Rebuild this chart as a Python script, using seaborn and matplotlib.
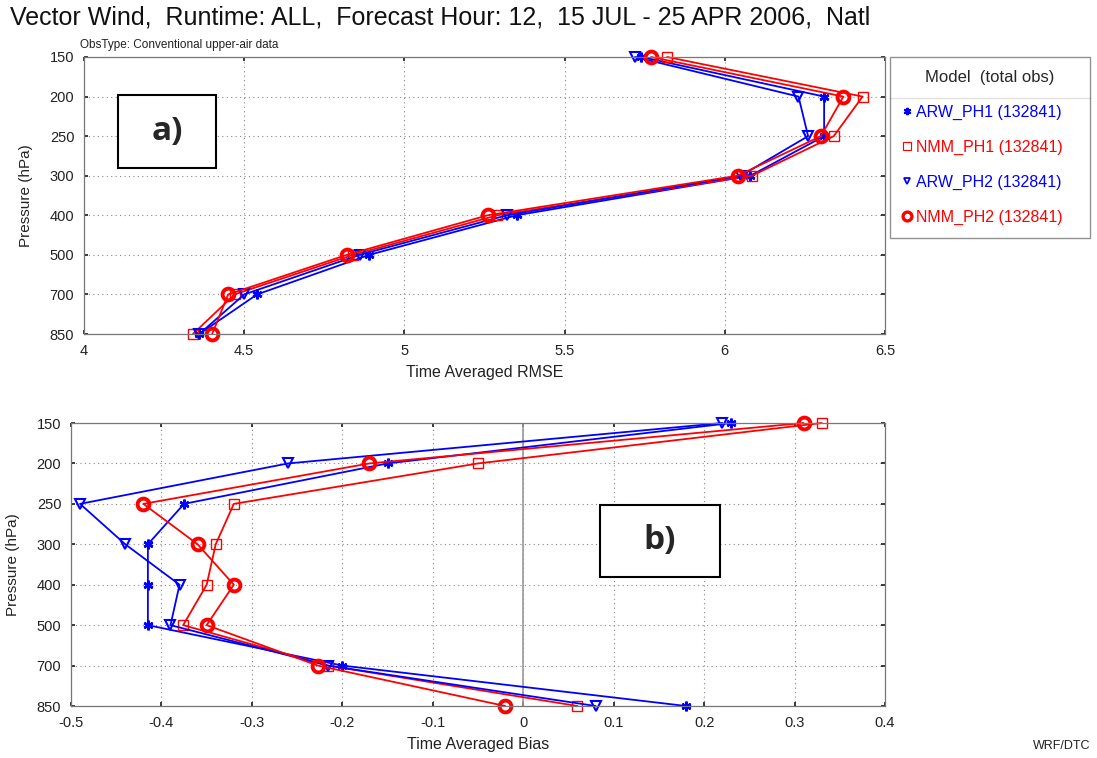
import matplotlib
matplotlib.use("Agg")
import matplotlib.pyplot as plt
from matplotlib.patches import Rectangle
from matplotlib.lines import Line2D
import numpy as np
import pandas as pd
import seaborn as sns

levels = [150, 200, 250, 300, 400, 500, 700, 850]
models = ["ARW_PH1 (132841)", "NMM_PH1 (132841)", "ARW_PH2 (132841)", "NMM_PH2 (132841)"]

rmse_arw_ph1 = [5.74, 6.31, 6.31, 6.08, 5.35, 4.89, 4.54, 4.36]
rmse_nmm_ph1 = [5.82, 6.43, 6.34, 6.085, 5.29, 4.84, 4.47, 4.34]
rmse_arw_ph2 = [5.72, 6.23, 6.26, 6.05, 5.32, 4.86, 4.50, 4.36]
rmse_nmm_ph2 = [5.77, 6.37, 6.30, 6.04, 5.26, 4.82, 4.45, 4.40]

bias_arw_ph1 = [0.23, -0.15, -0.375, -0.415, -0.415, -0.415, -0.20, 0.18]
bias_nmm_ph1 = [0.33, -0.05, -0.32, -0.34, -0.35, -0.376, -0.216, 0.06]
bias_arw_ph2 = [0.22, -0.26, -0.49, -0.44, -0.38, -0.39, -0.216, 0.08]
bias_nmm_ph2 = [0.31, -0.17, -0.42, -0.36, -0.32, -0.35, -0.227, -0.02]

colors = {models[0]: "#0000ff", models[1]: "#ff0000", models[2]: "#0000ff", models[3]: "#ff0000"}
sns_markers = {models[0]: "X", models[1]: "s", models[2]: "v", models[3]: "o"}
markers = {models[0]: (6, 2, 0), models[1]: "s", models[2]: "v", models[3]: "o"}
msizes = {models[0]: 7, models[1]: 7, models[2]: 6.5, models[3]: 8.5}
mews = {models[0]: 1.8, models[1]: 1.0, models[2]: 1.5, models[3]: 2.8}


def long_df(series):
    rows = []
    for m, vals in zip(models, series):
        for i, (lv, v) in enumerate(zip(levels, vals)):
            rows.append({"model": m, "idx": i, "level": lv, "value": v})
    return pd.DataFrame(rows)


df_rmse = long_df([rmse_arw_ph1, rmse_nmm_ph1, rmse_arw_ph2, rmse_nmm_ph2])
df_bias = long_df([bias_arw_ph1, bias_nmm_ph1, bias_arw_ph2, bias_nmm_ph2])

sns.set_theme(style="white")
plt.rcParams["font.family"] = ["Liberation Sans", "DejaVu Sans"]

fig = plt.figure(figsize=(10.97, 7.58), dpi=100)
W, H = 1097, 758


def ax_rect(l, t, r, b):
    return [l / W, 1 - b / H, (r - l) / W, (b - t) / H]


ax1 = fig.add_axes(ax_rect(84, 57, 885, 334))
ax2 = fig.add_axes(ax_rect(71, 423, 885, 706))


def draw(ax, df, xlim, xticks, xlabel):
    sns.lineplot(data=df, x="value", y="idx", hue="model", style="model",
                 palette=colors, markers=sns_markers, dashes=False, sort=False,
                 estimator=None, ax=ax, legend=False, linewidth=1.3)
    for line, m in zip(ax.lines, models):
        line.set_clip_on(False)
        line.set_marker(markers[m])
        line.set_markeredgecolor(colors[m])
        line.set_markerfacecolor("none")
        line.set_markersize(msizes[m])
        line.set_markeredgewidth(mews[m])
    ax.set_xlim(*xlim)
    ax.set_ylim(len(levels) - 1, 0)
    ax.set_yticks(range(len(levels)))
    ax.set_yticklabels([str(v) for v in levels])
    ax.set_xticks(xticks)
    ax.set_xticklabels([f"{t:g}" for t in xticks])
    ax.grid(True, linestyle=(0, (1, 3)), color="#888888", linewidth=0.8)
    ax.tick_params(axis="both", direction="in", length=3, labelsize=10.5,
                   colors="#222222", pad=7, top=True, right=True, bottom=True, left=True)
    for sp in ax.spines.values():
        sp.set_color("#777777")
        sp.set_linewidth(0.9)
    ax.set_xlabel(xlabel, fontsize=11.5, color="#222222", labelpad=5)
    ax.set_ylabel("Pressure (hPa)", fontsize=11, color="#222222", labelpad=12)


draw(ax1, df_rmse, (4, 6.5), [4, 4.5, 5, 5.5, 6, 6.5], "Time Averaged RMSE")
draw(ax2, df_bias, (-0.5, 0.4), [-0.5, -0.4, -0.3, -0.2, -0.1, 0, 0.1, 0.2, 0.3, 0.4], "Time Averaged Bias")
ax2.axvline(0, color="#999999", linewidth=1.2, zorder=1)

fig.text(10 / W, 1 - 18 / H,
         "Vector Wind,  Runtime: ALL,  Forecast Hour: 12,  15 JUL - 25 APR 2006,  Natl",
         fontsize=18, family=["Liberation Sans Narrow", "Liberation Sans", "DejaVu Sans"],
         va="center", ha="left", color="#111111")
fig.text(80 / W, 1 - 45 / H, "ObsType: Conventional upper-air data", fontsize=8.5,
         va="center", ha="left", color="#222222")
fig.text(1090 / W, 1 - 746 / H, "WRF/DTC", fontsize=9, va="center", ha="right", color="#222222")

# label boxes
for (l, t, r, b, s) in [(118, 95, 216, 168, "a)"), (600, 505, 720, 577, "b)")]:
    fig.patches.append(Rectangle((l / W, 1 - b / H), (r - l) / W, (b - t) / H,
                                 transform=fig.transFigure, facecolor="white",
                                 edgecolor="black", linewidth=1.5, zorder=5))
    fig.text((l + r) / 2 / W, 1 - (t + b) / 2 / H, s, fontsize=24, fontweight="bold",
             family=["Open Sans", "DejaVu Sans"], ha="center", va="center", zorder=6)

# legend
handles = []
for m in models:
    handles.append(Line2D([], [], linestyle="none", marker=markers[m], markersize=msizes[m] * 0.75,
                          markeredgecolor=colors[m], markerfacecolor="none",
                          markeredgewidth=mews[m] * 0.85))
lx0, ly0, lx1, ly1 = 890, 57, 1090, 237
leg = fig.legend(handles, models, loc="upper left",
                 bbox_to_anchor=(lx0 / W, 1 - ly1 / H, (lx1 - lx0) / W, (ly1 - ly0) / H),
                 mode="expand", title="Model  (total obs)", title_fontsize=12,
                 fontsize=11.5, frameon=True, fancybox=False, borderpad=0.8,
                 labelspacing=1.25, handlelength=0.5, handletextpad=0.3,
                 borderaxespad=0, alignment="center")
leg.get_frame().set_edgecolor("#777777")
leg.get_frame().set_linewidth(1.0)
for txt, m in zip(leg.get_texts(), models):
    txt.set_color(colors[m])
fig.add_artist(Line2D([lx0 / W, lx1 / W], [1 - 98 / H, 1 - 98 / H],
                      transform=fig.transFigure, color="#777777", linewidth=1.0))

fig.savefig("out.png", dpi=100)
